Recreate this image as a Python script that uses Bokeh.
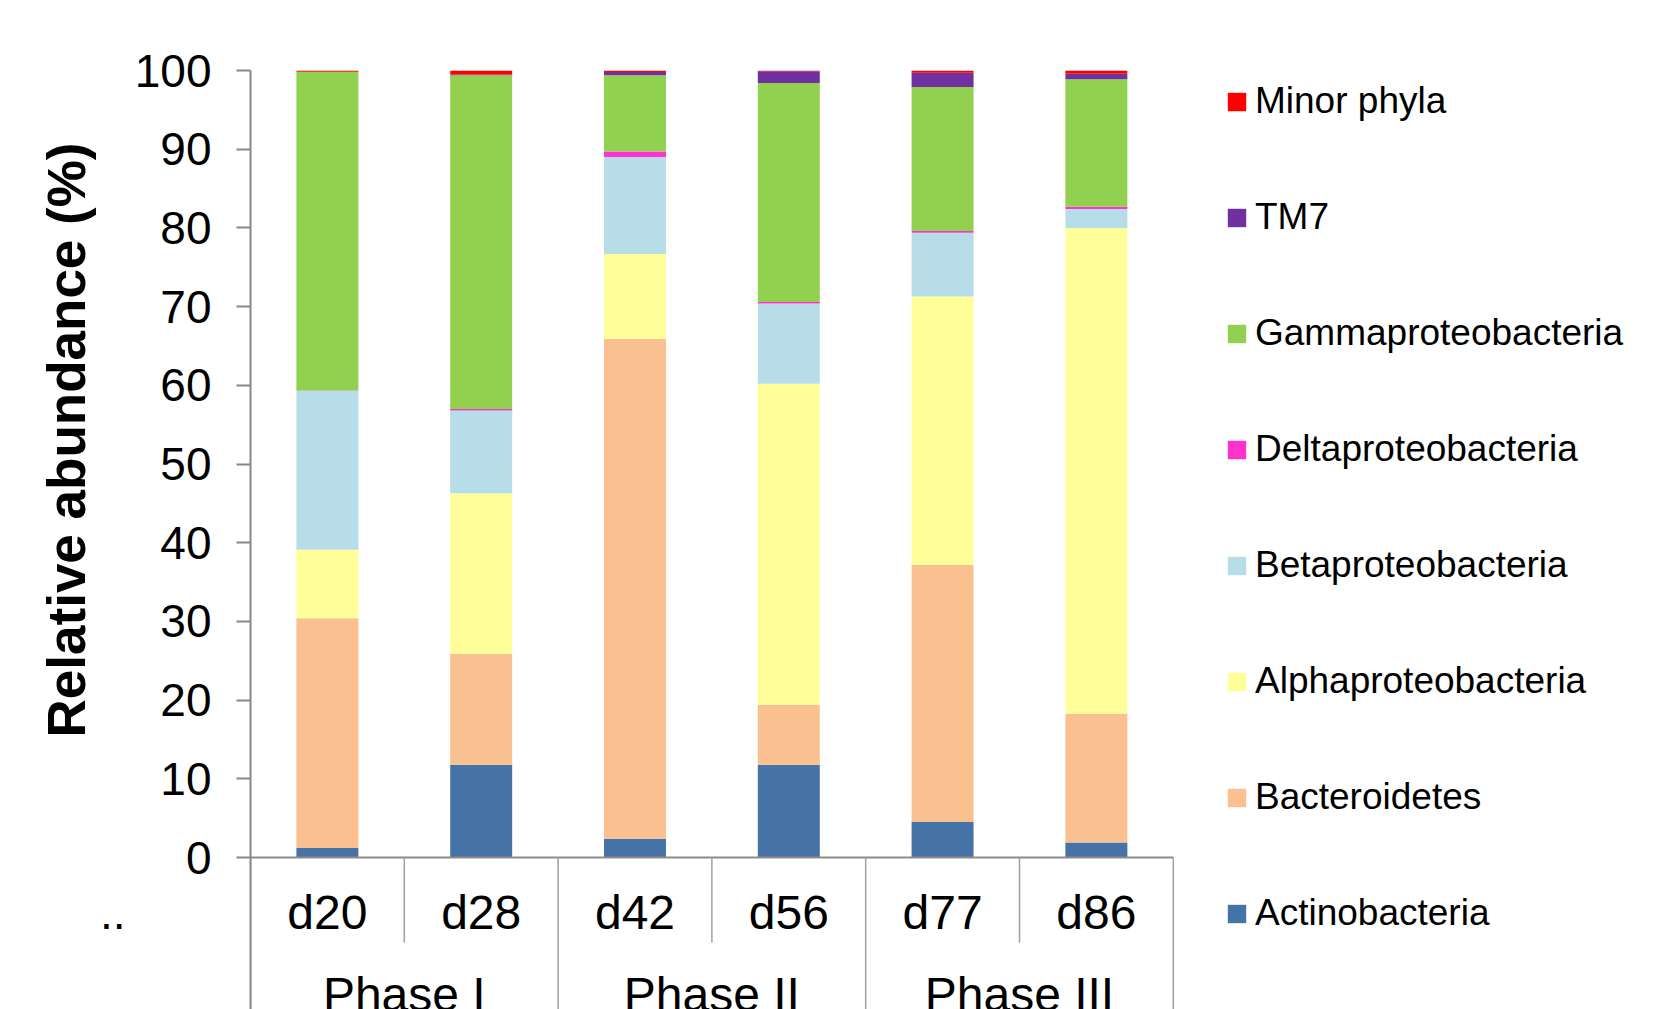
from bokeh.plotting import figure
from bokeh.models import (ColumnDataSource, Range1d, FixedTicker, Legend, LegendItem,
                          LinearAxis, Title)
from bokeh.core.properties import value
from bokeh.embed import file_html
from bokeh.resources import INLINE

# ---------------- data ----------------
days = ["d20", "d28", "d42", "d56", "d77", "d86"]
phase_of_day = ["Phase I", "Phase I", "Phase II", "Phase II", "Phase III", "Phase III"]
phases = ["Phase I", "Phase II", "Phase III"]

series_names = ["Actinobacteria", "Bacteroidetes", "Alphaproteobacteria", "Betaproteobacteria",
                "Deltaproteobacteria", "Gammaproteobacteria", "TM7", "Minor phyla"]

actinobacteria = [1.2, 11.8, 2.4, 11.8, 4.5, 1.9]
bacteroidetes = [29.2, 14.1, 63.5, 7.6, 32.7, 16.4]
alphaproteobacteria = [8.7, 20.4, 10.8, 40.8, 34.1, 61.7]
betaproteobacteria = [20.2, 10.5, 12.3, 10.2, 8.1, 2.4]
deltaproteobacteria = [0.05, 0.2, 0.7, 0.2, 0.2, 0.3]
gammaproteobacteria = [40.5, 42.4, 9.7, 27.8, 18.3, 16.2]
tm7 = [0.0, 0.1, 0.4, 1.5, 1.8, 0.7]
minor_phyla = [0.15, 0.5, 0.2, 0.1, 0.3, 0.4]

y_ticks = [0, 10, 20, 30, 40, 50, 60, 70, 80, 90, 100]
y_title = "Relative abundance (%)"
stray_mark = ".."

colors = ["#4572A7", "#FAC090", "#FFFF99", "#B7DEE8", "#FF33CC", "#92D050", "#7030A0", "#FF0000"]

FONT = "Liberation Sans"

# ---------------- figure ----------------
n = len(days)
src = ColumnDataSource(dict(
    x=[i + 0.5 for i in range(n)],
    Actinobacteria=actinobacteria,
    Bacteroidetes=bacteroidetes,
    Alphaproteobacteria=alphaproteobacteria,
    Betaproteobacteria=betaproteobacteria,
    Deltaproteobacteria=deltaproteobacteria,
    Gammaproteobacteria=gammaproteobacteria,
    TM7=tm7,
    **{"Minor phyla": minor_phyla},
))

y_bottom = -19.31
p = figure(width=1650, height=1009, output_backend="svg", toolbar_location=None,
           x_range=Range1d(0, 9.103), y_range=Range1d(y_bottom, 100),
           x_axis_location=None, y_axis_location="left",
           min_border_left=250, min_border_right=0, min_border_top=70, min_border_bottom=0)
p.outline_line_color = None
p.grid.visible = False
p.background_fill_color = "white"
p.border_fill_color = "white"

renderers = p.vbar_stack(series_names, x="x", width=0.403, source=src,
                         color=colors, line_color=None)

# x baseline
p.segment(x0=[0], y0=[0], x1=[n], y1=[0], line_color="#8C8C8C", line_width=2)

# category separators
sep_x, sep_y1 = [], []
for k in range(n + 1):
    if k == 0 or k == n or phase_of_day[k - 1] != phase_of_day[k]:
        sep_y1.append(-30)
    else:
        sep_y1.append(-10.8)
    sep_x.append(k)
p.segment(x0=sep_x, y0=[0] * len(sep_x), x1=sep_x, y1=sep_y1, line_color="#A0A0A0", line_width=1.5)

# day labels
p.text(x=[i + 0.5 for i in range(n)], y=[-7.0] * n, text=days,
       text_font=value(FONT), text_font_size="48px", text_align="center",
       text_baseline="alphabetic", text_color="black")

# phase labels
ph_x = []
for ph in phases:
    idx = [i + 0.5 for i, d in enumerate(phase_of_day) if d == ph]
    ph_x.append(sum(idx) / len(idx))
p.text(x=ph_x, y=[-17.4] * len(phases), text=phases,
       text_font=value(FONT), text_font_size="48px", text_align="center",
       text_baseline="alphabetic", text_color="black")

# y axis
ax = p.yaxis[0]
ax.ticker = FixedTicker(ticks=y_ticks)
ax.bounds = (y_bottom, 100)
ax.axis_line_color = "#888888"
ax.axis_line_width = 2
ax.major_tick_line_color = "#888888"
ax.major_tick_line_width = 2
ax.major_tick_out = 14
ax.major_tick_in = 0
ax.minor_tick_out = 0
ax.minor_tick_in = 0
ax.major_label_text_font = FONT
ax.major_label_text_font_size = "46px"
ax.major_label_text_color = "black"
ax.major_label_standoff = 25

# stray ".." mark shown left of the category labels
dots_axis = LinearAxis(ticker=FixedTicker(ticks=[-7]), major_label_overrides={-7: stray_mark},
                       axis_line_color=None, major_tick_line_color=None,
                       minor_tick_line_color=None, major_tick_out=0, major_tick_in=0,
                       major_label_standoff=6, major_label_text_font=FONT,
                       major_label_text_font_size="46px", major_label_text_color="black")
p.add_layout(dots_axis, "left")

# y title
p.add_layout(Title(text=y_title, align="right", offset=72, vertical_align="middle", standoff=0,
                   text_font=FONT, text_font_size="53px", text_font_style="bold",
                   text_color="black"), "left")

# legend
items = [LegendItem(label=name, renderers=[r]) for name, r in zip(series_names, renderers)]
items.reverse()
legend = Legend(items=items, location=(975, 74), orientation="vertical",
                glyph_width=23, glyph_height=23, label_height=44, spacing=72,
                padding=0, margin=0, label_standoff=7,
                label_text_font=FONT, label_text_font_size="37px",
                label_text_baseline="alphabetic", label_text_color="black",
                border_line_color=None, background_fill_alpha=0)
p.add_layout(legend)

open("out.html", "w").write(file_html(p, INLINE))
